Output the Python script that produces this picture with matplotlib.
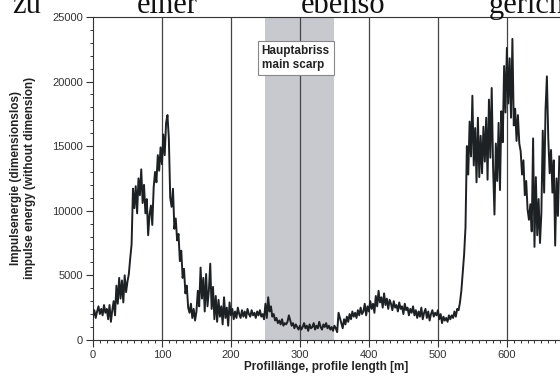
#!/usr/bin/env python3

import numpy as np
import matplotlib
matplotlib.use('Agg')
import matplotlib.pyplot as plt
import matplotlib.ticker as ticker

plt.rcParams['font.family'] = ['Liberation Sans', 'DejaVu Sans']

# profile length [m], 2 m spacing
distance = np.arange(0, 677, 2)

# impulse energy, one row = 20 m
energy = [
    1800, 2300, 1700, 2200, 2600, 2000, 2400, 1900, 2700, 2100,        # 0
    2400, 1600, 2700, 1400, 2300, 3000, 1900, 4200, 2800, 4800,        # 20
    3200, 4600, 2900, 5000, 3700, 4500, 5100, 6300, 7400, 11700,       # 40
    10200, 11900, 9800, 12500, 11200, 13200, 10600, 12000, 9800, 10900,  # 60
    8100, 9700, 10400, 8900, 11800, 13000, 12200, 14300, 13100, 14900,   # 80
    13600, 15900, 14300, 16800, 17400, 15600, 11000, 10300, 11700, 8600, # 100
    9400, 7700, 8200, 6100, 6900, 4800, 5500, 3600, 4200, 2500,        # 120
    2100, 2800, 1700, 2400, 1500, 2200, 3800, 2600, 5600, 3200,        # 140
    4800, 2200, 5100, 2600, 3800, 5900, 2400, 4100, 1600, 3400,        # 160
    1400, 3100, 1800, 2600, 1200, 3300, 1700, 2500, 1100, 2900,        # 180
    1900, 2400, 1600, 2200, 1700, 2500, 2000, 1700, 2300, 1800,        # 200
    2200, 1700, 2400, 2000, 1800, 2300, 1900, 2100, 1700, 2200,        # 220
    1900, 2300, 1800, 2000, 1600, 2800, 1700, 3300, 2200, 2600,        # 240
    1800, 2000, 1500, 1700, 1300, 1500, 1200, 1600, 1100, 1300,        # 260
    1200, 1400, 1900, 1500, 1100, 1300, 900, 1200, 1000, 800,          # 280
    1100, 800, 1000, 1300, 900, 1100, 700, 1200, 900, 1000,            # 300
    1300, 800, 1100, 900, 1400, 1000, 800, 1200, 1000, 1300,           # 320
    900, 1100, 800, 1000, 700, 1100, 900, 600, 2100, 1700,             # 340
    1300, 900, 1600, 1200, 1800, 1400, 2000, 1600, 2200, 1800,         # 360
    2100, 1700, 2300, 1900, 2500, 2000, 2200, 2800, 1900, 2600,        # 380
    2200, 3000, 2400, 2800, 2100, 3400, 2600, 3800, 2900, 3300,        # 400
    2500, 3600, 2700, 3200, 2400, 3100, 2800, 2300, 3000, 2500,        # 420
    2700, 2200, 2900, 2400, 2600, 2000, 2800, 2300, 2500, 1900,        # 440
    2400, 2100, 2600, 1900, 2300, 1700, 2200, 1800, 2500, 1600,        # 460
    2100, 2400, 1700, 2200, 1500, 2000, 2300, 1800, 2100, 1900,        # 480
    2300, 1600, 2000, 1300, 1800, 1500, 1700, 1400, 1900, 1600,        # 500
    1900, 1700, 2200, 1800, 2400, 2300, 2900, 3800, 5200, 6600,        # 520
    8700, 15000, 12800, 16900, 14200, 18900, 13500, 16400, 12200, 17200, # 540
    12600, 15800, 12900, 16500, 13800, 17200, 12400, 18600, 14100, 19500, # 560
    13400, 9700, 15200, 12300, 16800, 11600, 17700, 15300, 21200, 17600,  # 580
    22600, 18300, 21800, 17200, 23300, 16600, 17900, 15400, 17400, 15200, # 600
    14600, 12800, 13900, 11200, 12300, 10100, 9300, 10500, 8400, 15600,   # 620
    7200, 12600, 8100, 10900, 7500, 9800, 16200, 11400, 17800, 20400,     # 640
    15600, 12900, 14700, 11400, 13900, 7300, 12500, 9600, 14200,          # 660
]

grid_x = [100, 200, 300, 400, 500, 600]
scarp = (250, 350)
scarp_label = 'Hauptabriss\nmain scarp'
page_words = [('zu', 0.021), ('einer', 0.245), ('ebenso', 0.537), ('gerichteten', 0.873)]

fig = plt.figure(figsize=(5.6, 3.76), dpi=100)
ax = fig.add_axes([0.166, 0.096, 0.834, 0.859])

# piece of the running text of the page above the figure
for w, xp in page_words:
    fig.text(xp, 0.966, w, family=['Liberation Serif', 'DejaVu Serif'],
             fontsize=22, va='baseline', ha='left', color='#111')

ax.axvspan(scarp[0], scarp[1], color='#c8c9ce', lw=0, zorder=0)
for gx in grid_x:
    ax.axvline(gx, color='#444', lw=0.9, zorder=1)

ax.plot(distance, energy, color='#1e2124', lw=1.4, zorder=3)

ax.text(294, 21800, scarp_label, ha='center', va='center', fontsize=8.5,
        fontweight='bold', color='#222', multialignment='left', zorder=4,
        bbox=dict(boxstyle='square,pad=0.35', fc='white', ec='#888', lw=0.8))

ax.set_xlim(0, 677)
ax.set_ylim(0, 25000)
ax.xaxis.set_major_locator(ticker.MultipleLocator(100))
ax.xaxis.set_minor_locator(ticker.MultipleLocator(10))
ax.yaxis.set_major_locator(ticker.MultipleLocator(5000))
ax.yaxis.set_minor_locator(ticker.MultipleLocator(1000))
ax.tick_params(which='major', length=5, width=0.8, color='#333',
               labelsize=8, labelcolor='#333', pad=2)
ax.tick_params(which='minor', length=2.5, width=0.7, color='#333')

for s in ['left', 'bottom', 'top']:
    ax.spines[s].set_color('#333')
    ax.spines[s].set_linewidth(0.8)
ax.spines['right'].set_visible(False)

ax.set_xlabel('Profillänge, profile length [m]', fontsize=8.5,
              fontweight='bold', color='#222', labelpad=1)
ax.set_ylabel('Impulsenergie (dimensionslos)\nimpulse energy (without dimension)',
              fontsize=8.5, fontweight='bold', color='#222', labelpad=12)

fig.savefig('out.png', dpi=100)
